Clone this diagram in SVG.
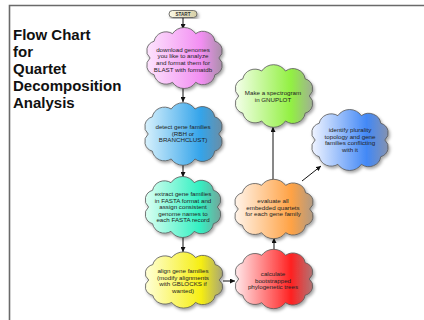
<svg xmlns="http://www.w3.org/2000/svg" xmlns:xlink="http://www.w3.org/1999/xlink" width="424" height="320" viewBox="0 0 424 320">
<style>
.frame{fill:none;stroke:#6a6a6a;stroke-width:1.6}
.title{font-family:"Liberation Sans",Arial,sans-serif;font-weight:bold;font-size:15px;fill:#111}
.lbl{font-family:"Liberation Sans",Arial,sans-serif;font-size:6.2px;fill:#222;text-anchor:middle}
.cl{stroke:#555;stroke-width:0.8}
.edge{fill:none;stroke:#111;stroke-width:1;marker-end:url(#arr)}
</style>
<defs>
<path id="cloud" vector-effect="non-scaling-stroke" d="M-38,-22 A15,15 0 0 1 -15,-32 A17,17 0 0 1 14,-32 A15,15 0 0 1 38,-22 A13,13 0 0 1 43,0 A13,13 0 0 1 38,22 A15,15 0 0 1 14,32 A17,17 0 0 1 -15,32 A15,15 0 0 1 -38,22 A13,13 0 0 1 -43,0 A13,13 0 0 1 -38,-22 Z"/>
<marker id="arr" viewBox="0 0 10 10" refX="10" refY="5" markerWidth="5" markerHeight="5" orient="auto" markerUnits="userSpaceOnUse"><path d="M0,0 L10,5 L0,10 Z" fill="#111"/></marker>
<filter id="sh" x="-20%" y="-20%" width="140%" height="140%"><feDropShadow dx="1.5" dy="2" stdDeviation="1.4" flood-color="#000" flood-opacity="0.35"/></filter>
<linearGradient id="g1"><stop offset="0" stop-color="#fde4fd"/><stop offset="0.72" stop-color="#f28ef2"/><stop offset="1" stop-color="#a890a8"/></linearGradient>
<linearGradient id="g2"><stop offset="0" stop-color="#d8f1fc"/><stop offset="0.72" stop-color="#34a4ea"/><stop offset="1" stop-color="#6a8ea6"/></linearGradient>
<linearGradient id="g3"><stop offset="0" stop-color="#dcfff2"/><stop offset="0.72" stop-color="#34f0c2"/><stop offset="1" stop-color="#74a49a"/></linearGradient>
<linearGradient id="g4"><stop offset="0" stop-color="#ffffd8"/><stop offset="0.72" stop-color="#f6ee12"/><stop offset="1" stop-color="#a8a676"/></linearGradient>
<linearGradient id="g5"><stop offset="0" stop-color="#ffe8ea"/><stop offset="0.72" stop-color="#ff2222"/><stop offset="1" stop-color="#b07474"/></linearGradient>
<linearGradient id="g6"><stop offset="0" stop-color="#fff4ea"/><stop offset="0.72" stop-color="#ffa244"/><stop offset="1" stop-color="#b09a84"/></linearGradient>
<linearGradient id="g7"><stop offset="0" stop-color="#f4ffea"/><stop offset="0.72" stop-color="#92f042"/><stop offset="1" stop-color="#a0b094"/></linearGradient>
<linearGradient id="g8"><stop offset="0" stop-color="#f0f4ff"/><stop offset="0.72" stop-color="#4288f6"/><stop offset="1" stop-color="#8492b0"/></linearGradient>
<linearGradient id="gs"><stop offset="0" stop-color="#fbf8e4"/><stop offset="1" stop-color="#d6cfa6"/></linearGradient>
</defs>

<path class="frame" d="M9.5,320 V5.5 H424"/>

<g id="title">
<text class="title" x="13" y="40">Flow Chart</text>
<text class="title" x="13" y="57">for</text>
<text class="title" x="13" y="74">Quartet</text>
<text class="title" x="13" y="91">Decomposition</text>
<text class="title" x="13" y="108">Analysis</text>
</g>

<g id="connectors">
<path class="edge" d="M183,17.5 V29"/>
<path class="edge" d="M183,88 V102"/>
<path class="edge" d="M183,165 V177"/>
<path class="edge" d="M183,237 V252"/>
<path class="edge" d="M223,281 H235"/>
<path class="edge" d="M274,250 V238"/>
<path class="edge" d="M273,180 V127"/>
<path class="edge" d="M302,181 L321,166"/>
</g>

<g id="start">
<rect x="169" y="10.5" width="28" height="7" rx="3.5" fill="url(#gs)" stroke="#555" stroke-width="0.8" filter="url(#sh)"/>
<text x="183" y="15.7" font-family="Liberation Sans,Arial,sans-serif" font-size="4.6" font-weight="bold" fill="#333" text-anchor="middle">START</text>
</g>

<g id="n1">
<g filter="url(#sh)"><use xlink:href="#cloud" class="cl" fill="url(#g1)" transform="translate(184.5,58) scale(0.8,0.76)"/></g>
<text class="lbl"><tspan x="183" y="51.5">download genomes</tspan><tspan x="183" y="58.2">you like to analyze</tspan><tspan x="183" y="64.9">and format them for</tspan><tspan x="183" y="71.6">BLAST with formatdb</tspan></text>
</g>

<g id="n2">
<g filter="url(#sh)"><use xlink:href="#cloud" class="cl" fill="url(#g2)" transform="translate(183.5,134) scale(0.82,0.78)"/></g>
<text class="lbl"><tspan x="183" y="129">detect gene families</tspan><tspan x="183" y="135.5">(RBH or</tspan><tspan x="183" y="142">BRANCHCLUST)</tspan></text>
</g>

<g id="n3">
<g filter="url(#sh)"><use xlink:href="#cloud" class="cl" fill="url(#g3)" transform="translate(183,207) scale(0.8,0.76)"/></g>
<text class="lbl"><tspan x="183" y="196">extract gene families</tspan><tspan x="183" y="202.6">in FASTA format and</tspan><tspan x="183" y="209.2">assign consistent</tspan><tspan x="183" y="215.8">genome names to</tspan><tspan x="183" y="222.4">each FASTA record</tspan></text>
</g>

<g id="n4">
<g filter="url(#sh)"><use xlink:href="#cloud" class="cl" fill="url(#g4)" transform="translate(184,280) scale(0.82,0.7)"/></g>
<text class="lbl"><tspan x="183" y="273">align gene families</tspan><tspan x="183" y="279.5">(modify alignments</tspan><tspan x="183" y="286">with GBLOCKS if</tspan><tspan x="183" y="292.5">wanted)</tspan></text>
</g>

<g id="n5">
<g filter="url(#sh)"><use xlink:href="#cloud" class="cl" fill="url(#g5)" transform="translate(274,279) scale(0.82,0.74)"/></g>
<text class="lbl"><tspan x="273" y="276">calculate</tspan><tspan x="273" y="282.5">bootstrapped</tspan><tspan x="273" y="289">phylogenetic trees</tspan></text>
</g>

<g id="n6">
<g filter="url(#sh)"><use xlink:href="#cloud" class="cl" fill="url(#g6)" transform="translate(274,209) scale(0.83,0.74)"/></g>
<text class="lbl"><tspan x="273" y="203">evaluate all</tspan><tspan x="273" y="209.5">embedded quartets</tspan><tspan x="273" y="216">for each gene family</tspan></text>
</g>

<g id="n7">
<g filter="url(#sh)"><use xlink:href="#cloud" class="cl" fill="url(#g7)" transform="translate(274,96) scale(0.82,0.78)"/></g>
<text class="lbl"><tspan x="273" y="95">Make a spectrogram</tspan><tspan x="273" y="101.5">in GNUPLOT</tspan></text>
</g>

<g id="n8">
<g filter="url(#sh)"><use xlink:href="#cloud" class="cl" fill="url(#g8)" transform="translate(350,140) scale(0.81,0.76)"/></g>
<text class="lbl"><tspan x="350" y="132">identify plurality</tspan><tspan x="350" y="138.5">topology and gene</tspan><tspan x="350" y="145">families conflicting</tspan><tspan x="350" y="151.5">with it</tspan></text>
</g>
</svg>
